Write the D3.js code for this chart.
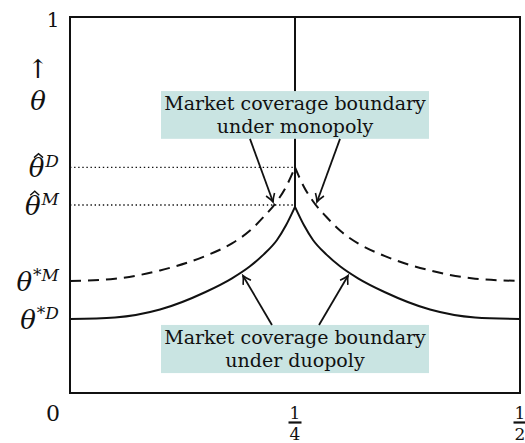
<!DOCTYPE html>
<html>
  <head>
    <title>Market coverage boundary</title>
    <script src="https://cdn.jsdelivr.net/npm/d3@7"></script>
    <style>
      body { margin: 0; background: #fff; }
      text { font-family: "DejaVu Serif", serif; fill: #111; }
    </style>
  </head>
<body>
  <div id="chart"></div>
  <script>
    // boundary values (left half then right half)
    var xs       = [0, 0.05, 0.1, 0.15, 0.18, 0.2, 0.215, 0.23, 0.24, 0.25, 0.26, 0.27, 0.285, 0.3, 0.32, 0.35, 0.4, 0.45, 0.5];
    var duopoly  = [0.197, 0.201, 0.222, 0.268, 0.305, 0.337, 0.368, 0.407, 0.446, 0.495, 0.446, 0.407, 0.368, 0.337, 0.305, 0.268, 0.222, 0.201, 0.197];
    var monopoly = [0.298, 0.304, 0.326, 0.364, 0.398, 0.432, 0.468, 0.51, 0.548, 0.6, 0.548, 0.51, 0.468, 0.432, 0.398, 0.364, 0.326, 0.304, 0.298];

    // y axis ticks
    var yTickValues = [0.197, 0.298, 0.5, 0.6];
    var yTickHat    = [false, false, true, true];
    var yTickSup    = ["*D", "*M", "M", "D"];

    // x axis ticks as fractions
    var xTickValues = [0.25, 0.5];
    var xTickNum    = ["1", "1"];
    var xTickDen    = ["4", "2"];

    var W = 525, H = 443;
    var x = d3.scaleLinear().domain([0, 0.5]).range([70, 520]);
    var y = d3.scaleLinear().domain([0, 1]).range([393, 17]);
    var peak = xs.indexOf(0.25);

    var svg = d3.select("#chart").append("svg")
        .attr("width", W)
        .attr("height", H);

    var defs = svg.append("defs");
    defs.append("marker")
        .attr("id", "head")
        .attr("viewBox", "-10 -6 12 12")
        .attr("markerWidth", 12)
        .attr("markerHeight", 12)
        .attr("markerUnits", "userSpaceOnUse")
        .attr("orient", "auto")
      .append("path")
        .attr("d", "M-8,-4.5 Q-3,-1 0,0 Q-3,1 -8,4.5")
        .attr("fill", "none")
        .attr("stroke", "#111")
        .attr("stroke-width", 1.6);

    // dotted guides
    [0.6, 0.5].forEach(function(v) {
      svg.append("line")
        .attr("x1", x(0)).attr("x2", x(0.25))
        .attr("y1", y(v)).attr("y2", y(v))
        .attr("stroke", "#111")
        .attr("stroke-width", 1.4)
        .attr("stroke-dasharray", "1.4,2.7");
    });

    var line = d3.line()
        .x(function(d) { return x(d[0]); })
        .y(function(d) { return y(d[1]); })
        .curve(d3.curveMonotoneX);

    function halves(vals) {
      var pts = xs.map(function(v, i) { return [v, vals[i]]; });
      return [pts.slice(0, peak + 1), pts.slice(peak)];
    }

    halves(monopoly).forEach(function(p) {
      svg.append("path")
        .attr("d", line(p))
        .attr("fill", "none")
        .attr("stroke", "#111")
        .attr("stroke-width", 2)
        .attr("stroke-dasharray", "11,7");
    });

    halves(duopoly).forEach(function(p) {
      svg.append("path")
        .attr("d", line(p))
        .attr("fill", "none")
        .attr("stroke", "#111")
        .attr("stroke-width", 2);
    });

    // vertical line at 1/4
    svg.append("line")
      .attr("x1", x(0.25)).attr("x2", x(0.25))
      .attr("y1", y(1)).attr("y2", y(duopoly[peak]))
      .attr("stroke", "#111")
      .attr("stroke-width", 2);

    // frame
    svg.append("rect")
      .attr("x", x(0)).attr("y", y(1))
      .attr("width", x(0.5) - x(0))
      .attr("height", y(0) - y(1))
      .attr("fill", "none")
      .attr("stroke", "#111")
      .attr("stroke-width", 2);

    // label boxes
    function box(top, bottom, lines) {
      svg.append("rect")
        .attr("x", x(0.25) - 134).attr("y", y(top))
        .attr("width", 268)
        .attr("height", y(bottom) - y(top))
        .attr("fill", "#c9e4e2");
      lines.forEach(function(t, i) {
        svg.append("text")
          .attr("x", x(0.25))
          .attr("y", y(top) + 19 + i * 23)
          .attr("text-anchor", "middle")
          .attr("font-size", 19)
          .text(t);
      });
    }
    box(0.803, 0.676, ["Market coverage boundary", "under monopoly"]);
    box(0.181, 0.053, ["Market coverage boundary", "under duopoly"]);

    function arrow(x1, y1, x2, y2) {
      svg.append("line")
        .attr("x1", x(x1)).attr("y1", y(y1))
        .attr("x2", x(x2)).attr("y2", y(y2))
        .attr("stroke", "#111")
        .attr("stroke-width", 1.8)
        .attr("marker-end", "url(#head)");
    }
    arrow(0.2, 0.676, 0.2256, 0.508);
    arrow(0.3, 0.676, 0.2744, 0.508);
    arrow(0.2244, 0.181, 0.1922, 0.312);
    arrow(0.2767, 0.181, 0.3089, 0.312);

    // y labels
    var fs = 26;
    yTickValues.forEach(function(v, i) {
      var base = y(v) + 10;
      var t = svg.append("text")
        .attr("x", 59)
        .attr("y", base)
        .attr("text-anchor", "end")
        .attr("font-size", fs)
        .attr("font-style", "italic");
      t.append("tspan").text("θ");
      t.append("tspan")
        .attr("font-size", 17)
        .attr("dx", 1)
        .attr("dy", -10)
        .text(yTickSup[i]);
      if (yTickHat[i]) {
        var b = t.node().getExtentOfChar(0);
        var cx = b.x + b.width / 2 + 2;
        var apex = base - 0.76 * fs - 4;
        svg.append("path")
          .attr("d", "M" + (cx - 4.5) + "," + (apex + 4) + " L" + cx + "," + apex + " L" + (cx + 4.5) + "," + (apex + 4))
          .attr("fill", "none")
          .attr("stroke", "#111")
          .attr("stroke-width", 1.4);
      }
    });

    svg.append("text")
      .attr("x", 53).attr("y", 27)
      .attr("text-anchor", "middle")
      .attr("font-size", 20)
      .text("1");
    svg.append("text")
      .attr("x", 53).attr("y", 421)
      .attr("text-anchor", "middle")
      .attr("font-size", 22)
      .text("0");
    svg.append("text")
      .attr("x", 38).attr("y", 78)
      .attr("text-anchor", "middle")
      .attr("font-size", 26)
      .text("↑");
    svg.append("text")
      .attr("x", 38).attr("y", 110)
      .attr("text-anchor", "middle")
      .attr("font-size", fs)
      .attr("font-style", "italic")
      .text("θ");

    // x labels
    xTickValues.forEach(function(v, i) {
      var cx = x(v);
      svg.append("text")
        .attr("x", cx).attr("y", 419)
        .attr("text-anchor", "middle")
        .attr("font-size", 17)
        .text(xTickNum[i]);
      svg.append("line")
        .attr("x1", cx - 6.5).attr("x2", cx + 6.5)
        .attr("y1", 422.5).attr("y2", 422.5)
        .attr("stroke", "#111")
        .attr("stroke-width", 2.2);
      svg.append("text")
        .attr("x", cx).attr("y", 440)
        .attr("text-anchor", "middle")
        .attr("font-size", 17)
        .text(xTickDen[i]);
    });
  </script>
</body>
</html>
